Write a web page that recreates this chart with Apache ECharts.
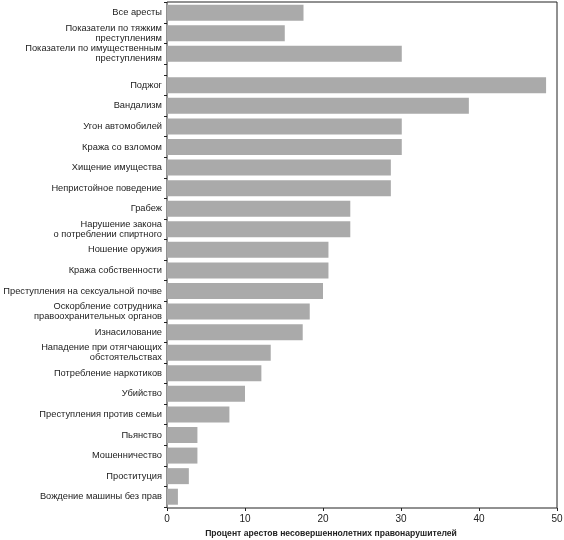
<!DOCTYPE html>
<html>
<head>
<meta charset="utf-8">
<script src="https://cdn.jsdelivr.net/npm/echarts@6/dist/echarts.min.js"></script>
<style>html,body{margin:0;padding:0;background:#fff;}#c{width:564px;height:540px;}</style>
</head>
<body>
<div id="c"></div>
<script>
var topCategories = [
  'Все аресты',
  'Показатели по тяжким\nпреступлениям',
  'Показатели по имущественным\nпреступлениям'
];
var topValues = [17.5, 15.1, 30.1];

var crimeCategories = [
  'Поджог', 'Вандализм', 'Угон автомобилей', 'Кража со взломом',
  'Хищение имущества', 'Непристойное поведение', 'Грабеж',
  'Нарушение закона\nо потреблении спиртного', 'Ношение оружия',
  'Кража собственности', 'Преступления на сексуальной почве',
  'Оскорбление сотрудника\nправоохранительных органов', 'Изнасилование',
  'Нападение при отягчающих\nобстоятельствах', 'Потребление наркотиков',
  'Убийство', 'Преступления против семьи', 'Пьянство', 'Мошенничество',
  'Проституция', 'Вождение машины без прав'
];
var crimeValues = [48.6, 38.7, 30.1, 30.1, 28.7, 28.7, 23.5, 23.5, 20.7, 20.7,
  20.0, 18.3, 17.4, 13.3, 12.1, 10.0, 8.0, 3.9, 3.9, 2.8, 1.4];

var xTicks = { min: 0, max: 50, interval: 10 };
var xName = 'Процент арестов несовершеннолетних правонарушителей';

var FONT = 'Liberation Sans, Arial, sans-serif';
var BAR = '#aaaaaa';

var chart = echarts.init(document.getElementById('c'), null, { renderer: 'canvas' });

function catAxis(gi, cats) {
  return {
    type: 'category', gridIndex: gi, data: cats, inverse: true,
    axisLine: { show: false },
    axisTick: { show: true, length: 3, lineStyle: { color: '#222', width: 1 } },
    axisLabel: { fontFamily: FONT, fontSize: 9.3, lineHeight: 10, color: '#222', margin: 5 },
    splitLine: { show: false }
  };
}
function hiddenX(gi) {
  return { type: 'value', gridIndex: gi, min: xTicks.min, max: xTicks.max, interval: xTicks.interval, show: false };
}

chart.setOption({
  animation: false,
  grid: [
    { left: 167, right: 7, top: 2, bottom: 32, show: true, borderColor: '#222', borderWidth: 1, backgroundColor: 'transparent', containLabel: false, outerBoundsMode: 'none' },
    { left: 167, right: 7, top: 2.5, height: 61.6, containLabel: false, outerBoundsMode: 'none' },
    { left: 167, right: 7, top: 75, height: 432, containLabel: false, outerBoundsMode: 'none' }
  ],
  xAxis: [
    {
      type: 'value', gridIndex: 0, min: xTicks.min, max: xTicks.max, interval: xTicks.interval,
      axisLine: { show: false },
      axisTick: { show: true, length: 3, lineStyle: { color: '#222' } },
      axisLabel: { fontFamily: FONT, fontSize: 10, color: '#222', margin: 6 },
      splitLine: { show: false },
      name: xName, nameLocation: 'middle', nameGap: 19,
      nameTextStyle: { fontFamily: FONT, fontSize: 8.6, fontWeight: 'bold', color: '#222', padding: [0, 62, 0, 0] }
    },
    hiddenX(1),
    hiddenX(2)
  ],
  yAxis: [
    { type: 'value', gridIndex: 0, min: 0, max: 1, show: false },
    catAxis(1, topCategories),
    catAxis(2, crimeCategories)
  ],
  series: [
    { type: 'bar', xAxisIndex: 1, yAxisIndex: 1, data: topValues, barWidth: 16, itemStyle: { color: BAR }, silent: true },
    { type: 'bar', xAxisIndex: 2, yAxisIndex: 2, data: crimeValues, barWidth: 16, itemStyle: { color: BAR }, silent: true }
  ]
});
</script>
</body>
</html>
